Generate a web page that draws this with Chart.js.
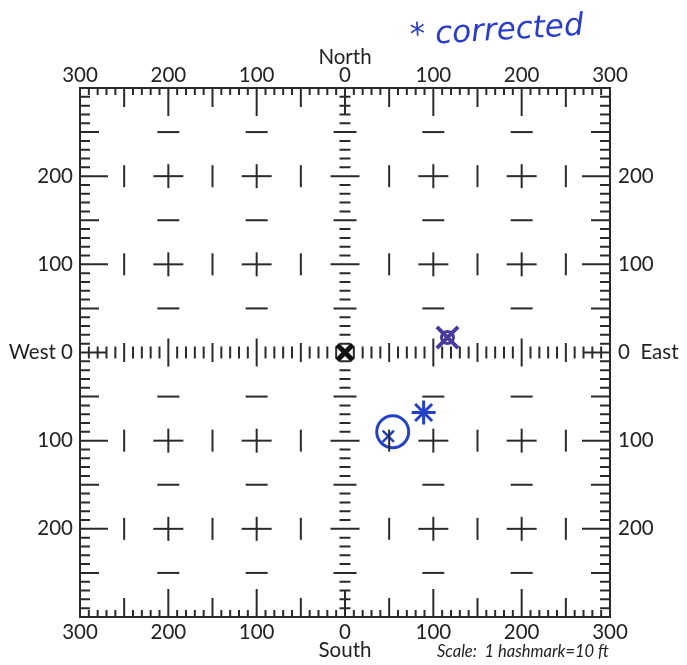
<!DOCTYPE html>
<html>
<head>
<meta charset="utf-8">
<script src="https://cdn.jsdelivr.net/npm/chart.js@4/dist/chart.umd.min.js"></script>
<style>
  html, body { margin: 0; padding: 0; background: #ffffff; }
  #wrap { width: 687px; height: 665px; }
</style>
</head>
<body>
<div id="wrap"><canvas id="c" width="687" height="665"></canvas></div>
<script>
// ---- tick labels ----
const xTickValues = [-300, -200, -100, 0, 100, 200, 300];
const xTickLabels = ['300', '200', '100', '0', '100', '200', '300'];
const yTickValues = [200, 100, 0, -100, -200];
const yLeftLabels = ['200', '100', 'West 0', '100', '200'];
const yRightLabels = ['200', '100', '0  East', '100', '200'];

// ---- grid of survey marks (feet) ----
const majorPositions = [-200, -100, 100, 200];
const halfPositions = [-250, -150, -50, 50, 150, 250];
const hashStep = 10;      // 1 hashmark = 10 ft
const extent = 300;

// ---- plotted marks ----
const originPoint = [{ x: 0, y: 0 }];
const purpleMark = [{ x: 116, y: 17 }];
const blueStar = [{ x: 89, y: -68 }];
const blueCircle = [{ x: 54, y: -90 }];
const blueCircleInner = [{ x: 49, y: -95 }];

const INK = '#2a2a2a';

function grid(xs, ys) {
  const out = [];
  ys.forEach(y => xs.forEach(x => out.push({ x, y })));
  return out;
}
const crossPts = grid(majorPositions, majorPositions);
const barPts = grid(halfPositions, majorPositions);
const dashPts = grid(majorPositions, halfPositions);

function markDs(data, style, radius, width, color, rotation) {
  return {
    data, showLine: false,
    pointStyle: style, pointRadius: radius, pointHoverRadius: radius,
    pointBorderWidth: width, pointHoverBorderWidth: width,
    pointBorderColor: color, pointBackgroundColor: 'rgba(0,0,0,0)',
    pointRotation: rotation || 0, pointHitRadius: 0, clip: false
  };
}

const framePlugin = {
  id: 'frame',
  beforeDatasetsDraw(chart) {
    const ctx = chart.ctx;
    const xs = chart.scales.x, ys = chart.scales.y;
    const L = xs.getPixelForValue(-extent), R = xs.getPixelForValue(extent);
    const T = ys.getPixelForValue(extent), B = ys.getPixelForValue(-extent);
    const cx = xs.getPixelForValue(0), cy = ys.getPixelForValue(0);
    ctx.save();
    ctx.strokeStyle = INK;
    ctx.lineWidth = 2;
    ctx.lineCap = 'butt';
    ctx.strokeRect(L, T, R - L, B - T);
    ctx.beginPath();
    const edgeLen = (v, minor) => (v % 100 === 0 ? 28 : (v % 50 === 0 ? 19 : minor));
    for (let v = -extent + hashStep; v < extent; v += hashStep) {
      if (v === 0) continue;
      const px = xs.getPixelForValue(v), py = ys.getPixelForValue(v);
      // top & bottom edges
      let l = edgeLen(v, 7);
      ctx.moveTo(px, T); ctx.lineTo(px, T + l);
      ctx.moveTo(px, B); ctx.lineTo(px, B - l);
      // left & right edges
      l = edgeLen(v, 10);
      ctx.moveTo(L, py); ctx.lineTo(L + l, py);
      ctx.moveTo(R, py); ctx.lineTo(R - l, py);
      // centre row (vertical ticks)
      let h = (v % 100 === 0 ? 28 : (v % 50 === 0 ? 19 : 12)) / 2;
      ctx.moveTo(px, cy - h); ctx.lineTo(px, cy + h);
      // centre column (horizontal ticks)
      h = (v % 100 === 0 ? 29 : (v % 50 === 0 ? 23 : 11)) / 2;
      ctx.moveTo(cx - h, py); ctx.lineTo(cx + h, py);
    }
    // short axis stubs at the frame
    const s1 = xs.getPixelForValue(-extent + 3 * hashStep), s2 = xs.getPixelForValue(extent - 3 * hashStep);
    ctx.moveTo(L, cy); ctx.lineTo(s1, cy);
    ctx.moveTo(R, cy); ctx.lineTo(s2, cy);
    const t1 = ys.getPixelForValue(extent - 3 * hashStep), t2 = ys.getPixelForValue(-extent + 3 * hashStep);
    ctx.moveTo(cx, T); ctx.lineTo(cx, t1);
    ctx.moveTo(cx, B); ctx.lineTo(cx, t2);
    ctx.stroke();

    // labels
    ctx.fillStyle = '#222222';
    ctx.font = '20.5px Lato, "Liberation Sans", sans-serif';
    ctx.textBaseline = 'middle';
    ctx.textAlign = 'center';
    xTickValues.forEach((v, i) => {
      const px = xs.getPixelForValue(v);
      ctx.fillText(xTickLabels[i], px, T - 13);
      ctx.fillText(xTickLabels[i], px, B + 15);
    });
    ctx.fillText('North', cx, T - 31);
    ctx.fillText('South', cx, B + 33);
    yTickValues.forEach((v, i) => {
      const py = ys.getPixelForValue(v);
      ctx.textAlign = 'right';
      ctx.fillText(yLeftLabels[i], L - 7, py);
      ctx.textAlign = 'left';
      ctx.fillText(yRightLabels[i], R + 8, py);
    });
    ctx.textAlign = 'left';
    ctx.font = 'italic 16.5px Lato, "Liberation Sans", sans-serif';
    ctx.fillText('Scale:  1 hashmark=10 ft', 437, B + 35);

    // handwritten note
    ctx.save();
    ctx.translate(410, 37);
    ctx.rotate(-0.06);
    ctx.fillStyle = '#2a3ccc';
    ctx.font = 'italic 31px "DejaVu Sans", sans-serif';
    ctx.textAlign = 'left';
    ctx.fillText('* corrected', 0, 0);
    ctx.restore();
    ctx.restore();
  }
};

new Chart(document.getElementById('c'), {
  type: 'scatter',
  data: {
    datasets: [
      markDs(crossPts, 'line', 15, 2, INK, 0),
      markDs(crossPts, 'line', 12, 2, INK, 90),
      markDs(barPts, 'line', 11, 2, INK, 90),
      markDs(dashPts, 'line', 11, 2, INK, 0),
      markDs(originPoint, 'crossRot', 11, 5, '#111111', 0),
      markDs(purpleMark, 'crossRot', 15, 4, '#4a3a9e', 0),
      markDs(purpleMark, 'circle', 6, 3, '#4a3a9e', 0),
      markDs(blueStar, 'star', 12, 3, '#2440c8', 0),
      markDs(blueCircle, 'circle', 16, 3, '#2440c8', 0),
      markDs(blueCircleInner, 'crossRot', 8, 2.5, '#2440c8', 0)
    ]
  },
  options: {
    responsive: false,
    animation: false,
    events: [],
    layout: { padding: { left: 80, top: 88, right: 77, bottom: 48 } },
    plugins: { legend: { display: false }, tooltip: { enabled: false } },
    scales: {
      x: { type: 'linear', min: -300, max: 300, display: false },
      y: { type: 'linear', min: -300, max: 300, display: false }
    }
  },
  plugins: [framePlugin]
});
</script>
</body>
</html>
